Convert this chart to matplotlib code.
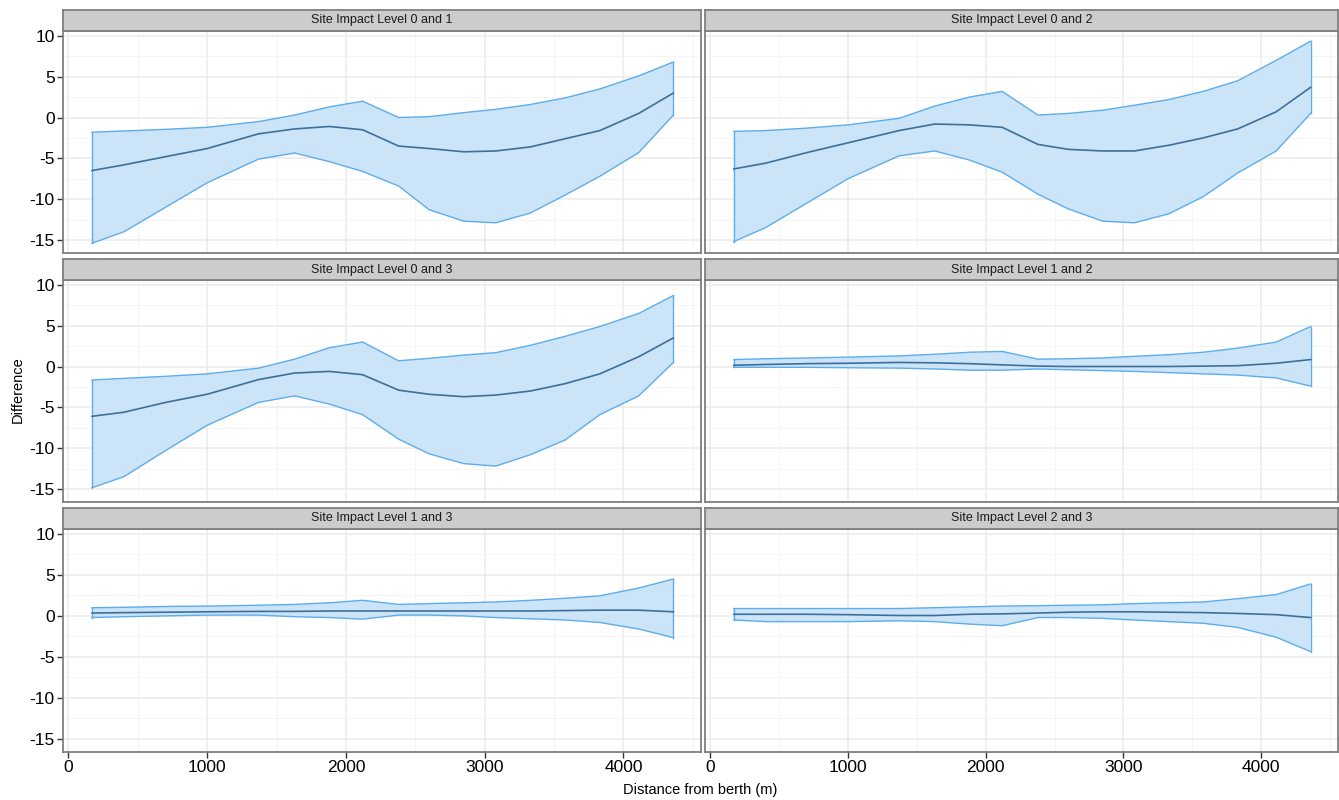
import matplotlib
matplotlib.use("Agg")
import matplotlib.pyplot as plt
from matplotlib.ticker import MultipleLocator

plt.rcParams['font.family'] = ['Liberation Sans', 'DejaVu Sans']

# ---------------- data ----------------
distance = [170, 400, 700, 1000, 1370, 1630, 1880, 2120, 2380, 2600, 2850, 3080, 3330, 3580, 3830, 4110, 4360]

panel_titles = ["Site Impact Level 0 and 1", "Site Impact Level 0 and 2",
                "Site Impact Level 0 and 3", "Site Impact Level 1 and 2",
                "Site Impact Level 1 and 3", "Site Impact Level 2 and 3"]

lower_01 = [-15.4, -14.0, -11.0, -8.0, -5.1, -4.35, -5.4, -6.6, -8.4, -11.3, -12.7, -12.9, -11.7, -9.5, -7.2, -4.3, 0.3]
upper_01 = [-1.8, -1.65, -1.45, -1.2, -0.5, 0.3, 1.3, 2.0, 0.0, 0.1, 0.6, 1.0, 1.6, 2.4, 3.5, 5.1, 6.8]
mean_01 = [-6.5, -5.8, -4.8, -3.8, -2.0, -1.4, -1.1, -1.5, -3.5, -3.8, -4.2, -4.1, -3.6, -2.6, -1.6, 0.5, 3.0]

lower_02 = [-15.2, -13.5, -10.5, -7.5, -4.7, -4.1, -5.2, -6.7, -9.4, -11.2, -12.7, -12.9, -11.8, -9.7, -6.8, -4.1, 0.5]
upper_02 = [-1.7, -1.6, -1.3, -0.9, -0.1, 1.4, 2.5, 3.2, 0.3, 0.5, 0.9, 1.5, 2.2, 3.2, 4.5, 7.0, 9.35]
mean_02 = [-6.3, -5.6, -4.3, -3.1, -1.6, -0.8, -0.9, -1.2, -3.3, -3.9, -4.1, -4.1, -3.4, -2.5, -1.4, 0.7, 3.7]

lower_03 = [-14.85, -13.5, -10.3, -7.2, -4.4, -3.6, -4.6, -5.9, -8.9, -10.7, -11.9, -12.2, -10.8, -9.0, -5.9, -3.6, 0.5]
upper_03 = [-1.65, -1.45, -1.2, -0.9, -0.2, 0.9, 2.3, 3.0, 0.7, 1.0, 1.4, 1.7, 2.6, 3.7, 4.9, 6.5, 8.7]
mean_03 = [-6.1, -5.6, -4.4, -3.4, -1.6, -0.8, -0.6, -1.0, -2.9, -3.4, -3.7, -3.5, -3.0, -2.1, -0.9, 1.2, 3.5]

lower_12 = [-0.1, -0.1, -0.1, -0.15, -0.2, -0.3, -0.45, -0.45, -0.3, -0.4, -0.5, -0.6, -0.75, -0.9, -1.05, -1.4, -2.4]
upper_12 = [0.85, 0.95, 1.05, 1.15, 1.3, 1.5, 1.75, 1.85, 0.9, 0.95, 1.05, 1.25, 1.45, 1.75, 2.25, 3.0, 4.9]
mean_12 = [0.15, 0.25, 0.35, 0.4, 0.5, 0.45, 0.35, 0.2, 0.05, 0.0, 0.0, 0.0, 0.0, 0.05, 0.1, 0.4, 0.85]

lower_13 = [-0.2, -0.1, 0.0, 0.1, 0.1, -0.1, -0.2, -0.4, 0.1, 0.1, 0.0, -0.2, -0.35, -0.5, -0.8, -1.6, -2.65]
upper_13 = [1.0, 1.05, 1.15, 1.2, 1.3, 1.4, 1.6, 1.9, 1.4, 1.5, 1.6, 1.7, 1.9, 2.15, 2.45, 3.4, 4.5]
mean_13 = [0.35, 0.4, 0.45, 0.5, 0.55, 0.55, 0.6, 0.6, 0.6, 0.6, 0.6, 0.6, 0.6, 0.65, 0.7, 0.7, 0.5]

lower_23 = [-0.5, -0.7, -0.7, -0.7, -0.6, -0.7, -1.0, -1.2, -0.2, -0.2, -0.3, -0.5, -0.7, -0.9, -1.4, -2.6, -4.35]
upper_23 = [0.9, 0.9, 0.9, 0.9, 0.9, 1.0, 1.1, 1.2, 1.25, 1.3, 1.35, 1.5, 1.6, 1.7, 2.1, 2.6, 3.9]
mean_23 = [0.2, 0.2, 0.2, 0.15, 0.05, 0.05, 0.2, 0.25, 0.35, 0.45, 0.5, 0.5, 0.45, 0.4, 0.3, 0.15, -0.2]

lowers = [lower_01, lower_02, lower_03, lower_12, lower_13, lower_23]
uppers = [upper_01, upper_02, upper_03, upper_12, upper_13, upper_23]
means = [mean_01, mean_02, mean_03, mean_12, mean_13, mean_23]

x_ticks = [0, 1000, 2000, 3000, 4000]
y_ticks = [-15, -10, -5, 0, 5, 10]

# ---------------- layout ----------------
W, H = 1339, 800
fig = plt.figure(figsize=(W / 100, H / 100), dpi=100)

col_x = [(63, 701), (705, 1338)]
row_y = [(10, 31, 253), (259, 280, 502), (508, 529, 752)]

fill_col = '#CCE4F7'
edge_col = '#5DADEC'
mean_col = '#3F6F98'
border = '#7F7F7F'
tickc = '#333333'

for i in range(6):
    r, c = divmod(i, 2)
    x0, x1 = col_x[c]
    s0, p0, p1 = row_y[r]
    ax = fig.add_axes([x0 / W, 1 - p1 / H, (x1 - x0) / W, (p1 - p0) / H])
    ax.set_xlim(-39, 4559)
    ax.set_ylim(-16.6, 10.6)
    ax.set_facecolor('white')
    ax.xaxis.set_major_locator(MultipleLocator(1000))
    ax.xaxis.set_minor_locator(MultipleLocator(500))
    ax.yaxis.set_major_locator(MultipleLocator(5))
    ax.yaxis.set_minor_locator(MultipleLocator(2.5))
    ax.grid(which='major', color='#EBEBEB', lw=1.1)
    ax.grid(which='minor', color='#F4F4F4', lw=0.6)
    ax.set_axisbelow(True)
    for sp in ax.spines.values():
        sp.set_color(border)
        sp.set_linewidth(1.3)

    ax.fill_between(distance, lowers[i], uppers[i], facecolor=fill_col,
                    edgecolor='none', zorder=2)
    ax.plot(distance, lowers[i], color=edge_col, lw=1.0, zorder=3)
    ax.plot(distance, uppers[i], color=edge_col, lw=1.0, zorder=3)
    ax.plot([distance[0], distance[0]], [lowers[i][0], uppers[i][0]], color=edge_col, lw=1.0, zorder=3)
    ax.plot([distance[-1], distance[-1]], [lowers[i][-1], uppers[i][-1]], color=edge_col, lw=1.0, zorder=3)
    ax.plot(distance, means[i], color=mean_col, lw=1.2, zorder=4)

    ax.tick_params(which='minor', length=0)
    ax.tick_params(which='major', color=tickc, length=4, width=1, labelsize=12.5,
                   labelcolor='black', pad=2)
    ax.set_xticks(x_ticks)
    ax.set_yticks(y_ticks)
    if c == 0:
        ax.set_yticklabels([str(v) for v in y_ticks])
    else:
        ax.tick_params(axis='y', left=False, labelleft=False)
    if r == 2:
        ax.set_xticklabels([str(v) for v in x_ticks])
    else:
        ax.tick_params(axis='x', bottom=False, labelbottom=False)

    # strip
    sax = fig.add_axes([x0 / W, 1 - p0 / H, (x1 - x0) / W, (p0 - s0) / H])
    sax.set_xlim(0, 1)
    sax.set_ylim(0, 1)
    sax.set_facecolor('#CCCCCC')
    sax.set_xticks([])
    sax.set_yticks([])
    for sp in sax.spines.values():
        sp.set_color(border)
        sp.set_linewidth(1.3)
    sax.text(0.5, 0.5, panel_titles[i], ha='center', va='center', fontsize=9,
             color='#1A1A1A')

fig.text(700 / W, 1 - 790 / H, "Distance from berth (m)", ha='center', va='center',
         fontsize=10.5, color='black')
fig.text(18 / W, 1 - 390 / H, "Difference", ha='center', va='center', rotation=90,
         fontsize=10.5, color='black')

fig.savefig("out.png", dpi=100)
